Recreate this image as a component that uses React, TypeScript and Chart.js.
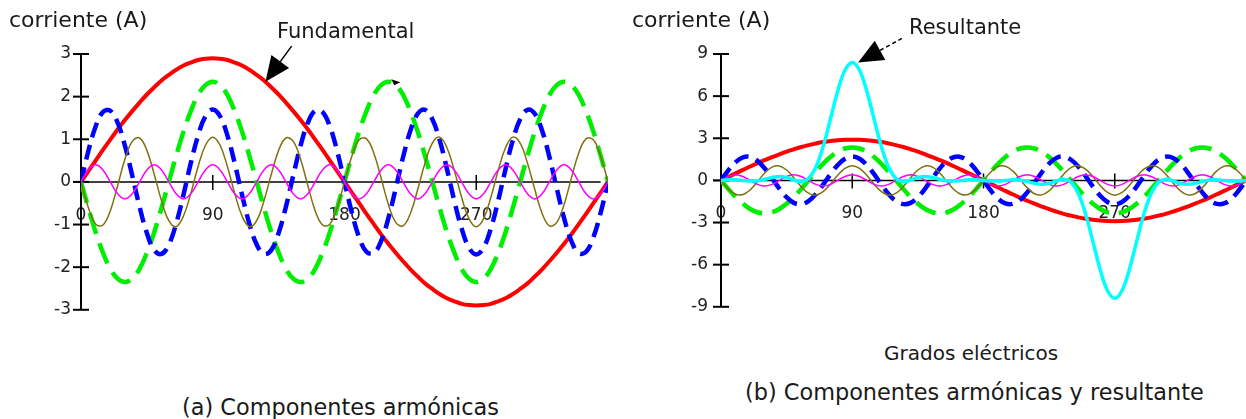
import React, { useEffect, useRef } from "react";
import { Chart, registerables } from "chart.js";

Chart.register(...registerables);

// ---------- data (degrees of the electrical cycle) ----------
const degrees = [
  0, 5, 10, 15, 20, 25, 30, 35, 40, 45, 50, 55, 60, 65, 70, 75, 80, 85, 90,
  95, 100, 105, 110, 115, 120, 125, 130, 135, 140, 145, 150, 155, 160, 165, 170, 175, 180,
  185, 190, 195, 200, 205, 210, 215, 220, 225, 230, 235, 240, 245, 250, 255, 260, 265, 270,
  275, 280, 285, 290, 295, 300, 305, 310, 315, 320, 325, 330, 335, 340, 345, 350, 355, 360,
];

// fundamental (red)
const fundamental = [
  0, 0.25, 0.5, 0.75, 0.99, 1.23, 1.45, 1.66, 1.86, 2.05, 2.22, 2.38, 2.51, 2.63, 2.73, 2.8, 2.86, 2.89, 2.9,
  2.89, 2.86, 2.8, 2.73, 2.63, 2.51, 2.38, 2.22, 2.05, 1.86, 1.66, 1.45, 1.23, 0.99, 0.75, 0.5, 0.25, 0,
  -0.25, -0.5, -0.75, -0.99, -1.23, -1.45, -1.66, -1.86, -2.05, -2.22, -2.38, -2.51, -2.63, -2.73, -2.8, -2.86, -2.89, -2.9,
  -2.89, -2.86, -2.8, -2.73, -2.63, -2.51, -2.38, -2.22, -2.05, -1.86, -1.66, -1.45, -1.23, -0.99, -0.75, -0.5, -0.25, 0,
];

// 3rd harmonic (green dashed)
const harmonic3 = [
  0, -0.61, -1.18, -1.66, -2.04, -2.27, -2.35, -2.27, -2.04, -1.66, -1.18, -0.61, 0, 0.61, 1.18, 1.66, 2.04, 2.27, 2.35,
  2.27, 2.04, 1.66, 1.18, 0.61, 0, -0.61, -1.18, -1.66, -2.04, -2.27, -2.35, -2.27, -2.04, -1.66, -1.18, -0.61, 0,
  0.61, 1.18, 1.66, 2.04, 2.27, 2.35, 2.27, 2.04, 1.66, 1.18, 0.61, 0, -0.61, -1.18, -1.66, -2.04, -2.27, -2.35,
  -2.27, -2.04, -1.66, -1.18, -0.61, 0, 0.61, 1.18, 1.66, 2.04, 2.27, 2.35, 2.27, 2.04, 1.66, 1.18, 0.61, 0,
];

// 5th harmonic (blue dashed)
const harmonic5 = [
  0, 0.72, 1.3, 1.64, 1.67, 1.39, 0.85, 0.15, -0.58, -1.2, -1.6, -1.69, -1.47, -0.98, -0.3, 0.44, 1.09, 1.54, 1.7,
  1.54, 1.09, 0.44, -0.3, -0.98, -1.47, -1.69, -1.6, -1.2, -0.58, 0.15, 0.85, 1.39, 1.67, 1.64, 1.3, 0.72, 0,
  -0.72, -1.3, -1.64, -1.67, -1.39, -0.85, -0.15, 0.58, 1.2, 1.6, 1.69, 1.47, 0.98, 0.3, -0.44, -1.09, -1.54, -1.7,
  -1.54, -1.09, -0.44, 0.3, 0.98, 1.47, 1.69, 1.6, 1.2, 0.58, -0.15, -0.85, -1.39, -1.67, -1.64, -1.3, -0.72, 0,
];

// 7th harmonic (olive)
const harmonic7 = [
  0, -0.6, -0.99, -1.01, -0.68, -0.09, 0.53, 0.95, 1.03, 0.74, 0.18, -0.44, -0.91, -1.05, -0.8, -0.27, 0.36, 0.86, 1.05,
  0.86, 0.36, -0.27, -0.8, -1.05, -0.91, -0.44, 0.18, 0.74, 1.03, 0.95, 0.53, -0.09, -0.68, -1.01, -0.99, -0.6, 0,
  0.6, 0.99, 1.01, 0.68, 0.09, -0.53, -0.95, -1.03, -0.74, -0.18, 0.44, 0.91, 1.05, 0.8, 0.27, -0.36, -0.86, -1.05,
  -0.86, -0.36, 0.27, 0.8, 1.05, 0.91, 0.44, -0.18, -0.74, -1.03, -0.95, -0.53, 0.09, 0.68, 1.01, 0.99, 0.6, 0,
];

// 9th harmonic (magenta)
const harmonic9 = [
  0, 0.28, 0.4, 0.28, 0, -0.28, -0.4, -0.28, 0, 0.28, 0.4, 0.28, 0, -0.28, -0.4, -0.28, 0, 0.28, 0.4,
  0.28, 0, -0.28, -0.4, -0.28, 0, 0.28, 0.4, 0.28, 0, -0.28, -0.4, -0.28, 0, 0.28, 0.4, 0.28, 0,
  -0.28, -0.4, -0.28, 0, 0.28, 0.4, 0.28, 0, -0.28, -0.4, -0.28, 0, 0.28, 0.4, 0.28, 0, -0.28, -0.4,
  -0.28, 0, 0.28, 0.4, 0.28, 0, -0.28, -0.4, -0.28, 0, 0.28, 0.4, 0.28, 0, -0.28, -0.4, -0.28, 0,
];

// resultant (cyan)
const resultant = [
  0, 0.04, 0.04, 0, -0.04, -0.03, 0.08, 0.21, 0.28, 0.21, 0.03, -0.09, 0.13, 0.93, 2.4, 4.35, 6.34, 7.84, 8.4,
  7.84, 6.34, 4.35, 2.4, 0.93, 0.13, -0.09, 0.03, 0.21, 0.28, 0.21, 0.08, -0.03, -0.04, 0, 0.04, 0.04, 0,
  -0.04, -0.04, 0, 0.04, 0.03, -0.08, -0.21, -0.28, -0.21, -0.03, 0.09, -0.13, -0.93, -2.4, -4.35, -6.34, -7.84, -8.4,
  -7.84, -6.34, -4.35, -2.4, -0.93, -0.13, 0.09, -0.03, -0.21, -0.28, -0.21, -0.08, 0.03, 0.04, 0, -0.04, -0.04, 0,
];

const xTickValues = [0, 90, 180, 270];
const yRangeA = { min: -3, max: 3, step: 1 };
const yRangeB = { min: -9, max: 9, step: 3 };

// annotation anchors (data coordinates)
const fundamentalArrow = { deg: 126, value: 2.35, dir: [25, -34] };
const resultantArrow = { deg: 94, value: 8.4, dir: [42, -23] };
const strayMark = { deg: 214, value: 2.36 };

const FONT = '"DejaVu Sans", Verdana, sans-serif';

const pts = (vals: number[]) => degrees.map((d, i) => ({ x: d, y: vals[i] }));

function drawArrow(ctx: CanvasRenderingContext2D, tx: number, ty: number, dir: number[], dotted: boolean) {
  const len = Math.hypot(dir[0], dir[1]);
  const ux = dir[0] / len;
  const uy = dir[1] / len;
  const px = -uy;
  const py = ux;
  const head = 25;
  const hw = 11;
  const bx = tx + ux * head;
  const by = ty + uy * head;
  ctx.save();
  ctx.fillStyle = "#000";
  ctx.strokeStyle = "#000";
  ctx.beginPath();
  ctx.moveTo(tx, ty);
  ctx.lineTo(bx + px * hw, by + py * hw);
  ctx.lineTo(bx - px * hw, by - py * hw);
  ctx.closePath();
  ctx.fill();
  ctx.lineWidth = 1.5;
  if (dotted) ctx.setLineDash([4, 3]);
  ctx.beginPath();
  ctx.moveTo(bx, by);
  ctx.lineTo(tx + ux * (len + 2), ty + uy * (len + 2));
  ctx.stroke();
  ctx.restore();
}

const handAxes = {
  id: "handAxes",
  beforeDatasetsDraw(chart: any) {
    const { ctx } = chart;
    const x = chart.scales.x;
    const y = chart.scales.y;
    const y0 = y.getPixelForValue(0);
    ctx.save();
    ctx.strokeStyle = "#000";
    ctx.lineWidth = 2;
    ctx.beginPath();
    ctx.moveTo(x.left, y.top);
    ctx.lineTo(x.left, y.bottom);
    ctx.stroke();
    y.ticks.forEach((t: any) => {
      const py = y.getPixelForValue(t.value);
      ctx.beginPath();
      ctx.moveTo(x.left - 8, py);
      ctx.lineTo(x.left + 8, py);
      ctx.stroke();
    });
    ctx.lineWidth = 1.5;
    ctx.beginPath();
    ctx.moveTo(x.left - 8, y0);
    ctx.lineTo(x.getPixelForValue(355), y0);
    ctx.stroke();
    x.ticks.forEach((t: any) => {
      if (t.value === 0) return;
      const px = x.getPixelForValue(t.value);
      ctx.beginPath();
      ctx.moveTo(px, y0 - 7);
      ctx.lineTo(px, y0 + 8);
      ctx.stroke();
    });
    ctx.restore();
  },
  afterDatasetsDraw(chart: any, _args: any, opts: any) {
    const { ctx } = chart;
    const x = chart.scales.x;
    const y = chart.scales.y;
    if (opts && opts.arrow) {
      const a = opts.arrow;
      drawArrow(ctx, x.getPixelForValue(a.deg), y.getPixelForValue(a.value), a.dir, !!opts.dotted);
    }
    if (opts && opts.mark) {
      const m = opts.mark;
      const mx = x.getPixelForValue(m.deg);
      const my = y.getPixelForValue(m.value);
      ctx.save();
      ctx.fillStyle = "#000";
      ctx.beginPath();
      ctx.moveTo(mx - 3, my - 2);
      ctx.lineTo(mx + 6, my + 1);
      ctx.lineTo(mx, my + 4);
      ctx.closePath();
      ctx.fill();
      ctx.restore();
    }
  },
};

function lineDs(label: string, vals: number[], color: string, width: number, dash: number[]) {
  return {
    label,
    data: pts(vals),
    borderColor: color,
    backgroundColor: color,
    borderWidth: width,
    borderDash: dash,
    pointRadius: 0,
    tension: 0.4,
    fill: false,
  };
}

function makeChart(canvas: HTMLCanvasElement, withResult: boolean) {
  const range = withResult ? yRangeB : yRangeA;
  const datasets: any[] = [];
  if (withResult) datasets.push(lineDs("Resultante", resultant, "#00ffff", 3.5, []));
  datasets.push(lineDs("9ª", harmonic9, "#ff00ff", 1.5, []));
  datasets.push(lineDs("7ª", harmonic7, "#807010", 1.5, []));
  datasets.push(lineDs("5ª", harmonic5, "#0000ff", 4.5, [15, 8]));
  datasets.push(lineDs("3ª", harmonic3, "#00ee00", 4.5, [22, 10]));
  datasets.push(lineDs("Fundamental", fundamental, "#ff0000", 4, []));

  return new Chart(canvas, {
    type: "line",
    data: { datasets },
    plugins: [handAxes],
    options: {
      animation: false,
      responsive: false,
      maintainAspectRatio: false,
      devicePixelRatio: 1,
      layout: { padding: { left: 0, right: withResult ? 0 : 12, top: 54, bottom: 14 } },
      plugins: {
        legend: { display: false },
        tooltip: { enabled: false },
        handAxes: withResult
          ? { arrow: resultantArrow, dotted: true }
          : { arrow: fundamentalArrow, mark: strayMark },
      } as any,
      scales: {
        x: {
          type: "linear",
          min: 0,
          max: 360,
          position: { y: 0 } as any,
          grid: { display: false, drawTicks: false },
          border: { display: false },
          afterBuildTicks: (scale: any) => {
            scale.ticks = xTickValues.map((v) => ({ value: v }));
          },
          ticks: {
            padding: 23,
            autoSkip: false,
            maxRotation: 0,
            color: "#222",
            font: { family: FONT, size: 17 },
            callback: (v: any) => String(v),
          },
        },
        y: {
          type: "linear",
          min: range.min,
          max: range.max,
          afterFit: (scale: any) => {
            scale.width = 81;
          },
          grid: { display: false, drawTicks: false },
          border: { display: false },
          ticks: {
            stepSize: range.step,
            padding: withResult ? 13 : 10,
            color: "#222",
            font: { family: FONT, size: 17 },
          },
        },
      },
    },
  });
}

const textStyle = (left: number, top: number, size = 21): React.CSSProperties => ({
  position: "absolute",
  left,
  top,
  fontFamily: FONT,
  fontSize: size,
  lineHeight: `${size}px`,
  whiteSpace: "nowrap",
  color: "#1a1a1a",
});

export default function App() {
  const refA = useRef<HTMLCanvasElement | null>(null);
  const refB = useRef<HTMLCanvasElement | null>(null);

  useEffect(() => {
    const a = makeChart(refA.current!, false);
    const b = makeChart(refB.current!, true);
    return () => {
      a.destroy();
      b.destroy();
    };
  }, []);

  return (
    <div style={{ position: "absolute", left: 0, top: 0, width: 1246, height: 419, background: "#fff", overflow: "hidden" }}>
      <canvas ref={refA} width={620} height={330} style={{ position: "absolute", left: 0, top: 0, width: 620, height: 330 }} />
      <canvas ref={refB} width={606} height={330} style={{ position: "absolute", left: 640, top: 0, width: 606, height: 330 }} />
      <div style={textStyle(9, 9, 22)}>corriente (A)</div>
      <div style={textStyle(277, 21)}>Fundamental</div>
      <div style={textStyle(632, 9, 22)}>corriente (A)</div>
      <div style={textStyle(909, 17)}>Resultante</div>
      <div style={textStyle(884, 343, 20)}>Grados eléctricos</div>
      <div style={textStyle(182, 396, 22.4)}>(a) Componentes armónicas</div>
      <div style={textStyle(745, 381, 22.4)}>(b) Componentes armónicas y resultante</div>
    </div>
  );
}
